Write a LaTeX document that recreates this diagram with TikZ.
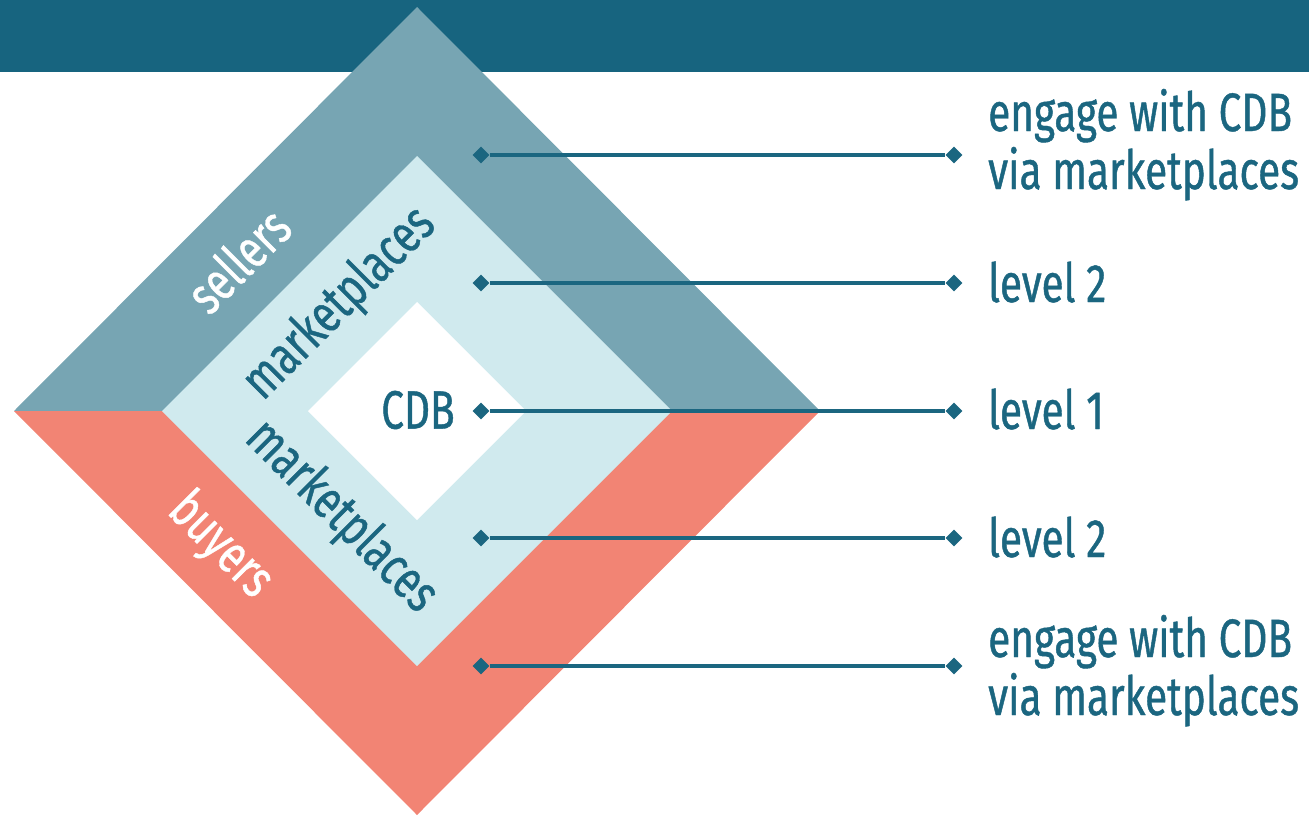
\documentclass[tikz,border=0pt]{standalone}
\usepackage{fontspec}
\newfontfamily\osw[FakeStretch=0.75,FakeBold=0.8]{Fira Sans}
\usetikzlibrary{shapes.geometric}
\definecolor{barc}{HTML}{17647F}
\definecolor{upperc}{HTML}{77A5B3}
\definecolor{lowerc}{HTML}{F28474}
\definecolor{midc}{HTML}{D0EAEE}
\definecolor{textc}{HTML}{1B6680}
\begin{document}
\begin{tikzpicture}[x=1pt,y=-1pt,
  marker/.style={diamond, fill=textc, inner sep=0pt, minimum size=17pt},
  conn/.style={draw=textc, line width=3.5pt},
  lab/.style={text=textc, font=\osw\fontsize{54}{58}\selectfont, anchor=base west, inner sep=0pt},
  bandtxt/.style={font=\osw\fontsize{54}{58}\selectfont, inner sep=0pt, anchor=center}]
\useasboundingbox (0,0) rectangle (1309,816);
% top bar
\fill[barc] (0,0) rectangle (1309,72);
% diamond layers
\fill[upperc] (14,411) -- (417,7) -- (820,411) -- cycle;
\fill[lowerc] (14,411) -- (417,815) -- (820,411) -- cycle;
\fill[midc] (162,411) -- (417,156) -- (672,411) -- (417,666) -- cycle;
\fill[white] (308,411) -- (417,302) -- (526,411) -- (417,520) -- cycle;
% band texts
\node[bandtxt, text=white, rotate=45] (sellers) at (238,260) {sellers};
\node[bandtxt, text=textc, rotate=45] (mkup) at (340,304) {marketplaces};
\node[bandtxt, text=textc] (cdb) at (418,410) {CDB};
\node[bandtxt, text=textc, rotate=-45] (mkdn) at (341,517) {marketplaces};
\node[bandtxt, text=white, rotate=-45] (buyers) at (220,546) {buyers};
% markers and connectors
\foreach \i/\y in {1/155,2/283,3/411,4/538,5/666}{
  \node[marker] (l\i) at (481,\y) {};
  \node[marker] (r\i) at (954,\y) {};
  \draw[conn] (l\i) -- (r\i);
}
% right labels
\node[lab] (t1a) at (988,131) {engage with CDB};
\node[lab] (t1b) at (988,189) {via marketplaces};
\node[lab] (t2) at (988,302) {level 2};
\node[lab] (t3) at (988,429) {level 1};
\node[lab] (t4) at (988,557) {level 2};
\node[lab] (t5a) at (988,657) {engage with CDB};
\node[lab] (t5b) at (988,715) {via marketplaces};
\end{tikzpicture}
\end{document}
